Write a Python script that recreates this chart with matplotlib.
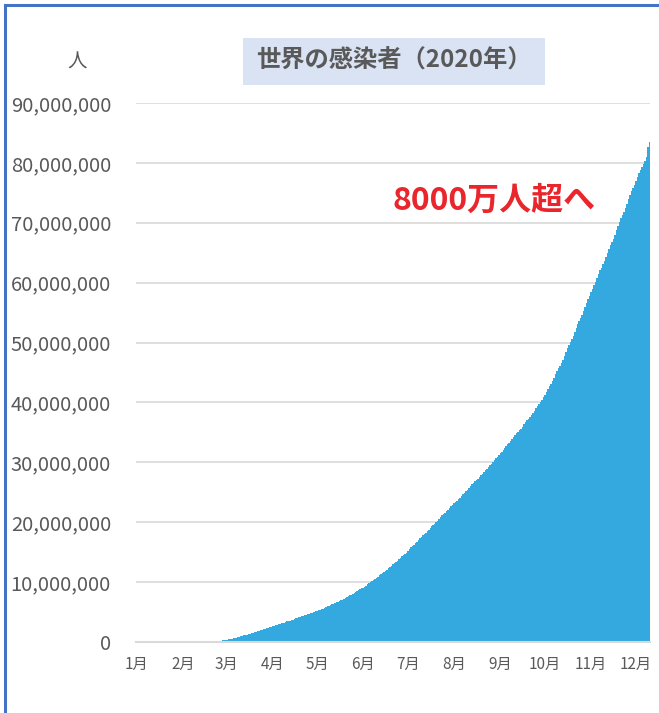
import matplotlib
matplotlib.use('Agg')
import matplotlib.pyplot as plt
from matplotlib.patches import Rectangle
from matplotlib.ticker import FuncFormatter
import numpy as np
import pandas as pd

plt.rcParams['font.family'] = ['Noto Sans CJK JP', 'DejaVu Sans']

# 世界の累計感染者数（百万人）, 2020/1/22 ～ 2020/12/31
start_date = '2020-01-22'
jan = [0.001, 0.001, 0.001, 0.002, 0.002, 0.003, 0.006, 0.006, 0.008, 0.010]
feb = [0.012, 0.017, 0.020, 0.024, 0.028, 0.031, 0.034, 0.037, 0.040, 0.043,
       0.045, 0.045, 0.060, 0.067, 0.069, 0.071, 0.073, 0.075, 0.075, 0.076,
       0.076, 0.079, 0.079, 0.080, 0.080, 0.081, 0.082, 0.084, 0.086]
mar = [0.088, 0.090, 0.093, 0.095, 0.098, 0.102, 0.106, 0.110, 0.114, 0.119,
       0.126, 0.133, 0.146, 0.157, 0.168, 0.182, 0.198, 0.218, 0.245, 0.273,
       0.305, 0.337, 0.378, 0.418, 0.467, 0.529, 0.593, 0.660, 0.721, 0.782,
       0.857]
apr = [0.933, 1.013, 1.096, 1.176, 1.250, 1.322, 1.396, 1.475, 1.561, 1.657,
       1.735, 1.835, 1.913, 1.976, 2.056, 2.152, 2.240, 2.317, 2.401, 2.472,
       2.549, 2.624, 2.708, 2.795, 2.881, 2.954, 3.024, 3.097, 3.173, 3.256]
may = [3.344, 3.429, 3.506, 3.583, 3.662, 3.755, 3.845, 3.939, 4.025, 4.101,
       4.178, 4.261, 4.347, 4.442, 4.542, 4.636, 4.713, 4.801, 4.898, 4.996,
       5.104, 5.210, 5.310, 5.407, 5.495, 5.589, 5.693, 5.812, 5.936, 6.063,
       6.166]
jun = [6.268, 6.375, 6.493, 6.622, 6.754, 6.881, 6.991, 7.095, 7.221, 7.356,
       7.494, 7.630, 7.766, 7.900, 8.019, 8.160, 8.320, 8.466, 8.644, 8.794,
       8.954, 9.083, 9.250, 9.431, 9.620, 9.807, 9.999, 10.160, 10.326, 10.497]
jul = [10.700, 10.912, 11.115, 11.305, 11.494, 11.658, 11.868, 12.086, 12.313,
       12.546, 12.767, 12.956, 13.139, 13.341, 13.572, 13.811, 14.050, 14.288,
       14.497, 14.704, 14.942, 15.230, 15.517, 15.802, 16.047, 16.259, 16.481,
       16.729, 17.010, 17.299, 17.590]
aug = [17.816, 18.034, 18.241, 18.462, 18.731, 19.012, 19.298, 19.561, 19.769,
       19.994, 20.265, 20.549, 20.843, 21.131, 21.382, 21.596, 21.809, 22.069,
       22.353, 22.630, 22.905, 23.163, 23.375, 23.577, 23.838, 24.125, 24.417,
       24.698, 24.952, 25.174, 25.442]
sep = [25.724, 26.011, 26.302, 26.590, 26.842, 27.045, 27.258, 27.519, 27.810,
       28.100, 28.413, 28.678, 28.940, 29.191, 29.475, 29.776, 30.096, 30.414,
       30.674, 30.920, 31.222, 31.500, 31.806, 32.125, 32.456, 32.755, 33.010,
       33.250, 33.546, 33.865]
oct_ = [34.180, 34.504, 34.822, 35.085, 35.337, 35.624, 35.981, 36.320, 36.681,
        37.035, 37.304, 37.562, 37.867, 38.248, 38.652, 39.061, 39.432, 39.729,
        40.047, 40.440, 40.842, 41.302, 41.794, 42.265, 42.681, 43.123, 43.613,
        44.120, 44.679, 45.256, 45.729]
nov = [46.163, 46.639, 47.153, 47.772, 48.393, 49.030, 49.629, 50.094, 50.600,
       51.152, 51.741, 52.398, 53.051, 53.659, 54.164, 54.644, 55.266, 55.905,
       56.563, 57.253, 57.853, 58.366, 58.919, 59.535, 60.177, 60.790, 61.454,
       62.047, 62.526, 63.064]
dec = [63.701, 64.342, 65.011, 65.699, 66.334, 66.827, 67.323, 67.998, 68.718,
       69.432, 70.140, 70.773, 71.296, 71.797, 72.476, 73.218, 73.952, 74.673,
       75.274, 75.793, 76.321, 76.995, 77.713, 78.385, 78.852, 79.293, 79.740,
       80.336, 81.037, 82.650, 83.420]

month_labels = ['1月', '2月', '3月', '4月', '5月', '6月',
                '7月', '8月', '9月', '10月', '11月', '12月']

cases = np.array(jan + feb + mar + apr + may + jun + jul + aug + sep + oct_ + nov + dec) * 1e6
dates = pd.date_range(start_date, periods=len(cases))
x = np.arange(len(cases))

fig = plt.figure(figsize=(6.59, 7.13), dpi=100)
W, H = 659, 713
ax = fig.add_axes([136 / W, 1 - 642 / H, (650 - 136) / W, (642 - 103) / H])

ax.bar(x, cases, width=1.0, color='#33A9DF', linewidth=0)

ax.set_xlim(-0.5, len(cases) - 0.5)
ax.set_ylim(0, 90e6)
ax.set_yticks(np.arange(0, 90e6 + 1, 10e6))
ax.yaxis.set_major_formatter(FuncFormatter(lambda v, p: f'{int(v):,}'))

# ラベルは各月の22日（データ開始日から1か月刻み）
tick_pos = x[dates.day == 22]
ax.set_xticks(tick_pos)
ax.set_xticklabels(month_labels)

ax.grid(axis='y', color='#D9D9D9', linewidth=1.2)
ax.set_axisbelow(True)
for s in ['top', 'right', 'left']:
    ax.spines[s].set_visible(False)
ax.spines['bottom'].set_color('#D9D9D9')
ax.spines['bottom'].set_linewidth(1.5)
ax.tick_params(axis='y', length=0, pad=18, labelsize=14.5, labelcolor='#595959')
ax.tick_params(axis='x', length=0, pad=10, labelsize=11, labelcolor='#595959')

# 枠線（左と上）
fig.add_artist(plt.Line2D([5 / W, 5 / W], [0, 1 - 5 / H], color='#4472C4', lw=2.2))
fig.add_artist(plt.Line2D([5 / W, 1], [1 - 5 / H, 1 - 5 / H], color='#4472C4', lw=2.2))

fig.text(77 / W, 1 - 62 / H, '人', fontsize=14, color='#595959', ha='center', va='center')

# タイトル
fig.patches.append(Rectangle((243 / W, 1 - 85 / H), (545 - 243) / W, (85 - 38) / H,
                             transform=fig.transFigure, facecolor='#DAE3F3',
                             edgecolor='none', figure=fig))
fig.text(394 / W, 1 - 61 / H, '世界の感染者（2020年）', fontsize=17.5, fontweight='bold',
         color='#595959', ha='center', va='center')

fig.text(393 / W, 1 - 210 / H, '8000万人超へ', fontsize=23, fontweight='bold',
         color='#E8262B', ha='left', va='baseline')

fig.savefig('out.png', dpi=100)
